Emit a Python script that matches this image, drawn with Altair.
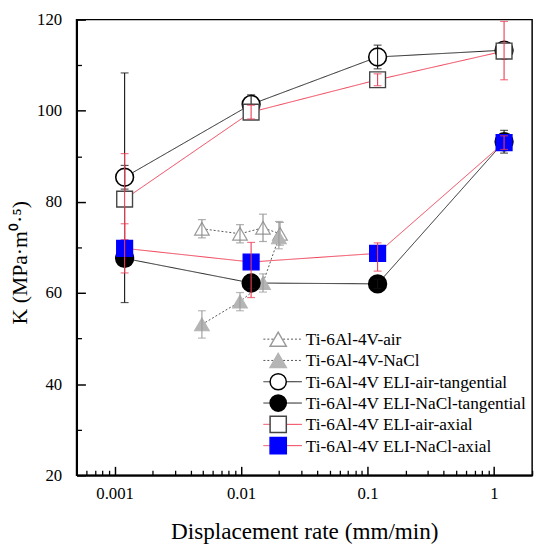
import altair as alt
import pandas as pd

SERIES = [
    "Ti-6Al-4V-air",
    "Ti-6Al-4V-NaCl",
    "Ti-6Al-4V ELI-air-tangential",
    "Ti-6Al-4V ELI-NaCl-tangential",
    "Ti-6Al-4V ELI-air-axial",
    "Ti-6Al-4V ELI-NaCl-axial",
]

# ---- data ----
air_rate = [0.0049, 0.0098, 0.0149, 0.0203]
air_k = [74.1, 73.0, 74.3, 73.0]
air_lo = [72.1, 71.0, 71.3, 70.5]
air_hi = [76.1, 75.0, 77.3, 75.5]

nacl_rate = [0.0049, 0.0098, 0.0149, 0.0199]
nacl_k = [53.1, 58.1, 62.2, 72.2]
nacl_lo = [50.1, 56.1, 60.2, 69.7]
nacl_hi = [56.1, 60.1, 64.2, 75.7]

eli_rate = [0.0012, 0.012, 0.12, 1.2]
air_tan_k = [85.4, 101.4, 111.8, 113.3]
air_tan_lo = [82.8, 99.3, 109.2, 111.8]
air_tan_hi = [88.0, 103.5, 114.4, 114.8]
nacl_tan_k = [67.6, 62.2, 62.0, 93.2]
nacl_tan_lo = [57.9, 61.0, 61.0, 90.7]
nacl_tan_hi = [108.3, 63.4, 63.0, 95.7]
air_ax_k = [80.6, 99.7, 106.8, 113.1]
air_ax_lo = [71.7, 98.2, 105.5, 106.8]
air_ax_hi = [90.6, 101.2, 108.1, 119.6]
nacl_ax_k = [69.8, 66.8, 68.7, 93.0]
nacl_ax_lo = [64.4, 59.0, 64.8, 91.5]
nacl_ax_hi = [75.2, 71.1, 71.0, 94.5]

x_major = [0.001, 0.01, 0.1, 1]
x_minor = [0.0006, 0.0007, 0.0008, 0.0009,
           0.002, 0.003, 0.004, 0.005, 0.006, 0.007, 0.008, 0.009,
           0.02, 0.03, 0.04, 0.05, 0.06, 0.07, 0.08, 0.09,
           0.2, 0.3, 0.4, 0.5, 0.6, 0.7, 0.8, 0.9, 2]
y_major = [20, 40, 60, 80, 100, 120]
y_minor = [30, 50, 70, 90, 110]

rows = []
for name, xs, ks, los, his in [
    (SERIES[0], air_rate, air_k, air_lo, air_hi),
    (SERIES[1], nacl_rate, nacl_k, nacl_lo, nacl_hi),
    (SERIES[2], eli_rate, air_tan_k, air_tan_lo, air_tan_hi),
    (SERIES[3], eli_rate, nacl_tan_k, nacl_tan_lo, nacl_tan_hi),
    (SERIES[4], eli_rate, air_ax_k, air_ax_lo, air_ax_hi),
    (SERIES[5], eli_rate, nacl_ax_k, nacl_ax_lo, nacl_ax_hi),
]:
    for x, k, lo, hi in zip(xs, ks, los, his):
        rows.append({"series": name, "rate": x, "K": k, "lo": lo, "hi": hi})
df = pd.DataFrame(rows)
legend_df = pd.DataFrame({"series": SERIES})

# ---- styles ----
RED = "#ee3b52"
STYLE = {
    SERIES[0]: dict(shape="triangle-up", fill="white", stroke="#9a9a9a", line="#555555", dash=[2, 2], size=220, lsize=270, err="#8a8a8a", sw=1.2),
    SERIES[1]: dict(shape="triangle-up", fill="#b5b5b5", stroke="#b5b5b5", line="#555555", dash=[2, 2], size=220, lsize=270, err="#9a9a9a", sw=1.2),
    SERIES[2]: dict(shape="circle", fill="white", stroke="black", line="#222222", dash=[1, 0], size=324, lsize=361, err="#111111", sw=1.6),
    SERIES[3]: dict(shape="circle", fill="black", stroke="black", line="#222222", dash=[1, 0], size=324, lsize=361, err="#111111", sw=1.6),
    SERIES[4]: dict(shape="square", fill="white", stroke="#444444", line=RED, dash=[1, 0], size=256, lsize=256, err=RED, sw=1.4),
    SERIES[5]: dict(shape="square", fill="#0000ff", stroke="#0000ff", line=RED, dash=[1, 0], size=256, lsize=256, err=RED, sw=1.4),
}

W = 462
H = 462
FONT = "Liberation Serif"
xs_scale = alt.Scale(type="log", domain=[0.0005, 2], nice=False)
ys_scale = alt.Scale(domain=[20, 120], nice=False, zero=False)

base = alt.Chart(df)


def X(field="rate", axis=None):
    return alt.X(f"{field}:Q", scale=xs_scale, axis=axis, title=None)


def Y(field="K", axis=None):
    return alt.Y(f"{field}:Q", scale=ys_scale, axis=axis, title=None)


label_x_axis = alt.Axis(values=x_major, format="~g", ticks=False, domain=True, domainWidth=2,
                        domainColor="black", labelFont=FONT, labelFontSize=17, labelPadding=11,
                        labelFlush=False, title="Displacement rate (mm/min)", titleFont=FONT,
                        titleFontSize=23.5, titleFontWeight="normal",
                        titleY=57, titleBaseline="middle", grid=False)
label_y_axis = alt.Axis(values=y_major, ticks=False, domain=True, domainWidth=2, domainColor="black",
                        labelFont=FONT, labelFontSize=17, labelPadding=15, labelFlush=False,
                        title="K (MPa·m⁰·⁵)", titleFont=FONT, titleFontSize=22, titleFontWeight="normal",
                        titleX=-57.5, titleY=246, titleAlign="center", titleBaseline="middle", grid=False)
major_x_axis = alt.Axis(orient="top", offset=-H, values=x_major, labels=False, domain=False,
                        tickSize=9, tickWidth=1.5, tickColor="black", title=None, grid=False)
major_y_axis = alt.Axis(orient="right", offset=-W, values=y_major, labels=False, domain=False,
                        tickSize=9, tickWidth=1.5, tickColor="black", title=None, grid=False)
minor_x_axis = alt.Axis(orient="top", offset=-H, values=x_minor, labels=False, domain=False,
                        tickSize=5, tickWidth=1.3, tickColor="black", title=None, grid=False)
minor_y_axis = alt.Axis(orient="right", offset=-W, values=y_minor, labels=False, domain=False,
                        tickSize=5, tickWidth=1.3, tickColor="black", title=None, grid=False)

axis_sets = [(label_x_axis, label_y_axis), (major_x_axis, major_y_axis), (minor_x_axis, minor_y_axis)]

layers = []
# lines
for i, s in enumerate(SERIES):
    st = STYLE[s]
    ax = axis_sets[i] if i < len(axis_sets) else (None, None)
    layers.append(
        base.transform_filter(alt.datum.series == s)
        .mark_line(color=st["line"], strokeWidth=1, strokeDash=st["dash"])
        .encode(x=X(axis=ax[0]), y=Y(axis=ax[1]), order="rate:Q")
    )

# points + error bars
for s in SERIES:
    st = STYLE[s]
    sub = base.transform_filter(alt.datum.series == s)
    layers.append(
        sub.mark_point(shape=st["shape"], filled=True, fill=st["fill"], stroke=st["stroke"],
                       strokeWidth=st["sw"], size=st["size"], opacity=1)
        .encode(x=X(), y=Y())
    )
    layers.append(
        sub.mark_rule(color=st["err"], strokeWidth=1.1)
        .encode(x=X(), y=Y("lo"), y2="hi:Q")
    )
    for f in ["lo", "hi"]:
        layers.append(
            sub.mark_tick(orient="horizontal", color=st["err"], size=8, thickness=1.2)
            .encode(x=X(), y=Y(f))
        )

# ---- legend drawn inside the plot (rows placed by a point scale) ----
leg = alt.Chart(legend_df)
leg_y = alt.Y("series:N", scale=alt.Scale(type="point", domain=SERIES, range=[324, 432], padding=0),
              axis=None, title=None)


def sc(key):
    return alt.Scale(domain=SERIES, range=[STYLE[s][key] for s in SERIES])


layers.append(
    leg.mark_rule(strokeWidth=1).encode(
        x=alt.value(189.5), x2=alt.value(228.5), y=leg_y,
        stroke=alt.Stroke("series:N", scale=sc("line"), legend=None),
        strokeDash=alt.StrokeDash("series:N", scale=sc("dash"), legend=None),
    )
)
layers.append(
    leg.mark_point(filled=True, strokeWidth=1.5, opacity=1).encode(
        x=alt.value(204.5), y=leg_y,
        shape=alt.Shape("series:N", scale=sc("shape"), legend=None),
        fill=alt.Fill("series:N", scale=sc("fill"), legend=None),
        stroke=alt.Stroke("series:N", scale=sc("stroke"), legend=None),
        size=alt.Size("series:N", scale=sc("lsize"), legend=None),
    )
)
layers.append(
    leg.mark_text(align="left", baseline="middle", font=FONT, fontSize=17.5, color="black", dx=0, dy=1).encode(
        x=alt.value(232.5), y=leg_y, text="series:N"
    )
)

chart = (
    alt.layer(*layers)
    .resolve_axis(x="independent", y="independent")
    .resolve_scale(y="independent", stroke="independent")
    .properties(width=W, height=H, autosize="none",
                padding={"left": 69.5, "top": 8, "right": 10, "bottom": 70})
    .configure_view(stroke="black", strokeWidth=1.5)
    .configure_axis(labelFont=FONT, titleFont=FONT, labelColor="black", titleColor="black", grid=False)
)

chart.save("out.html", embed_options={"renderer": "svg", "actions": False})
